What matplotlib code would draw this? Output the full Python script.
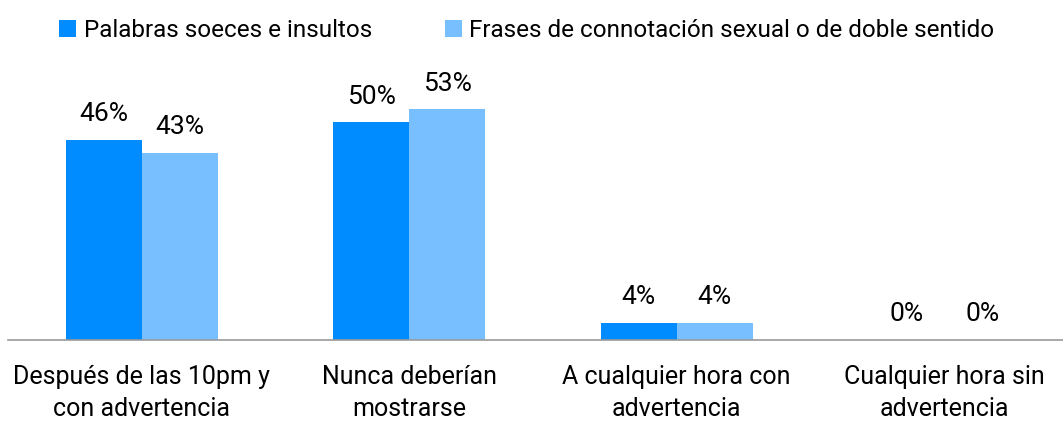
import numpy as np
import matplotlib.pyplot as plt

# ── DATA ─────────────────────────────────────────────────────────────────────
categories = ["Después de las 10pm y\ncon advertencia",
              "Nunca deberían\nmostrarse",
              "A cualquier hora con\nadvertencia",
              "Cualquier hora sin\nadvertencia"]
series_names = ["Palabras soeces e insultos",
                "Frases de connotación sexual o de doble sentido"]
palabras = [46, 50, 4, 0]
frases = [43, 53, 4, 0]

colors = ["#008cff", "#77bfff"]

plt.rcParams['font.family'] = ['Roboto', 'DejaVu Sans']

fig = plt.figure(figsize=(10.63, 4.21), dpi=100)
ax = fig.add_axes([8 / 1063, 81 / 421, 1 - 8 / 1063, 0.62])

x = np.arange(len(categories))
w = 0.284
b1 = ax.bar(x - w / 2, palabras, w, color=colors[0], label=series_names[0])
b2 = ax.bar(x + w / 2, frases, w, color=colors[1], label=series_names[1])

for bars, vals in ((b1, palabras), (b2, frases)):
    for rect, v in zip(bars, vals):
        ax.annotate(f"{v}%", (rect.get_x() + rect.get_width() / 2, v),
                    xytext=(0, 10), textcoords='offset points',
                    ha='center', va='bottom', fontsize=19, color='#000000')

ax.set_xlim(-0.5, 1055 / 267.5 - 0.5)
ax.set_ylim(0, 60)
ax.set_yticks([])
ax.set_xticks(x)
ax.set_xticklabels(categories, fontsize=18, color='#000000', linespacing=1.4)
ax.tick_params(axis='x', length=0, pad=18)
for s in ['top', 'right', 'left']:
    ax.spines[s].set_visible(False)
ax.spines['bottom'].set_color('#999999')
ax.spines['bottom'].set_linewidth(1.2)

fig.legend(handles=[b1, b2], loc='upper left', bbox_to_anchor=(40 / 1063, 1.0),
           ncol=2, frameon=False, fontsize=17.5, handlelength=0.7, handleheight=0.7,
           handletextpad=0.3, columnspacing=3.0, borderaxespad=0.4)

plt.savefig("out.png", dpi=100)
